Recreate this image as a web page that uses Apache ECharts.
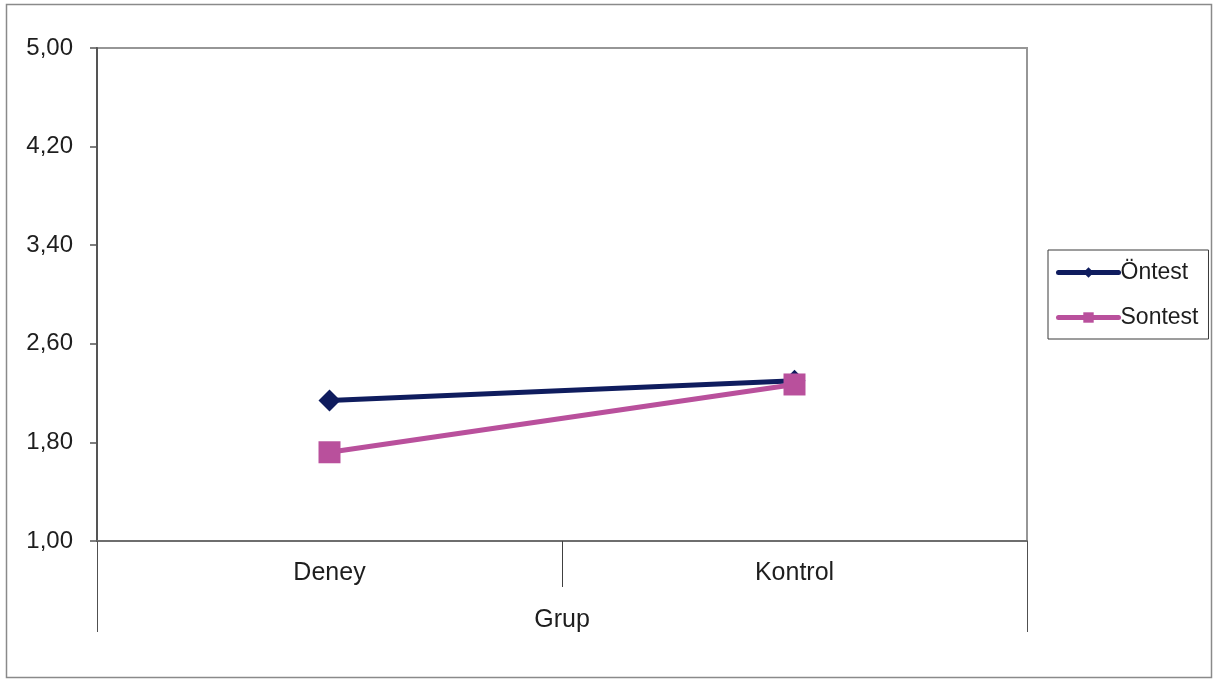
<!DOCTYPE html>
<html>
<head>
<meta charset="utf-8">
<script src="https://cdn.jsdelivr.net/npm/echarts@6/dist/echarts.min.js"></script>
<style>
  html, body { margin: 0; padding: 0; background: #fff; }
  #chart { width: 1213px; height: 679px; }
</style>
</head>
<body>
<div id="chart"></div>
<script>
// Group means before and after the intervention
const categories = ['Deney', 'Kontrol'];
const groupLabel = ['Grup'];
const ontest = [2.14, 2.30];
const sontest = [1.72, 2.27];
const yTicks = [1.00, 1.80, 2.60, 3.40, 4.20, 5.00];

const FONT = '"Liberation Sans", Arial, sans-serif';
const TEXT = '#1e1e1e';
const fmt = v => Number(v).toFixed(2).replace('.', ',');

const chart = echarts.init(document.getElementById('chart'), null, { renderer: 'canvas' });

chart.setOption({
  backgroundColor: '#ffffff',
  animation: false,
  textStyle: { fontFamily: FONT },
  graphic: [{
    type: 'rect',
    shape: { x: 6.5, y: 4.5, width: 1205, height: 673 },
    style: { fill: 'none', stroke: '#8a8a8a', lineWidth: 1.5 },
    silent: true,
    z: -1
  }],
  grid: {
    left: 97, top: 48, width: 930, height: 493,
    show: true,
    backgroundColor: '#ffffff',
    borderColor: '#969696',
    borderWidth: 2
  },
  legend: {
    left: 1048, top: 250,
    orient: 'vertical',
    backgroundColor: '#ffffff',
    borderColor: '#3a3a3a',
    borderWidth: 1,
    padding: [11, 10, 10, 8],
    itemWidth: 60,
    itemHeight: 13,
    itemGap: 22,
    lineStyle: { width: 5, cap: 'round' },
    textStyle: { fontFamily: FONT, fontSize: 23, color: TEXT, padding: [0, 0, 0, -3] },
    data: ['Öntest', 'Sontest']
  },
  xAxis: [
    {
      // first level: group categories
      type: 'category',
      data: categories,
      boundaryGap: true,
      axisLine: { show: true, lineStyle: { color: '#6e6e6e', width: 2 } },
      axisTick: { show: true, interval: 0, length: 46, lineStyle: { color: '#404040', width: 1 } },
      axisLabel: { interval: 0, margin: 20, fontFamily: FONT, fontSize: 25, color: TEXT },
      splitLine: { show: false }
    },
    {
      // second level: the grouping variable spanning both categories
      type: 'category',
      data: groupLabel,
      position: 'bottom',
      boundaryGap: true,
      axisLine: { show: false },
      axisTick: { show: true, interval: 0, length: 91, lineStyle: { color: '#505050', width: 1 } },
      axisLabel: { interval: 0, margin: 67, fontFamily: FONT, fontSize: 25, color: TEXT },
      splitLine: { show: false }
    }
  ],
  yAxis: {
    type: 'value',
    min: 1,
    max: 5,
    axisLine: { show: true, lineStyle: { color: '#555555', width: 2 } },
    axisTick: { show: true, length: 7, customValues: yTicks, lineStyle: { color: '#555555', width: 1.5 } },
    axisLabel: {
      customValues: yTicks,
      margin: 24,
      fontFamily: FONT, fontSize: 24, color: TEXT,
      formatter: fmt
    },
    splitLine: { show: false }
  },
  series: [
    {
      name: 'Öntest',
      type: 'line',
      xAxisIndex: 0,
      data: ontest,
      symbol: 'diamond',
      symbolSize: 22,
      lineStyle: { color: '#0f1c5e', width: 5 },
      itemStyle: { color: '#0f1c5e' },
      z: 2
    },
    {
      name: 'Sontest',
      type: 'line',
      xAxisIndex: 0,
      data: sontest,
      symbol: 'rect',
      symbolSize: 22,
      lineStyle: { color: '#b9509c', width: 5 },
      itemStyle: { color: '#b9509c' },
      z: 3
    }
  ]
});
</script>
</body>
</html>
